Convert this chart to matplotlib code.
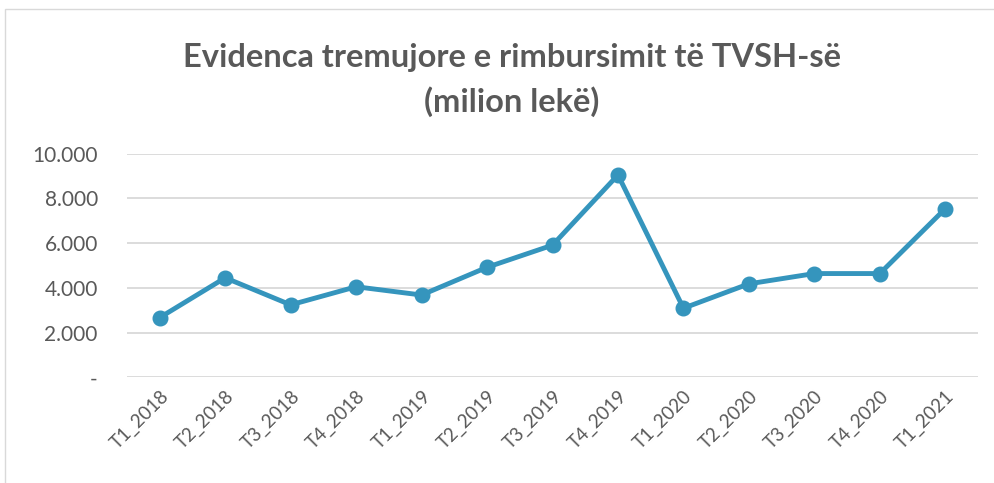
import matplotlib.pyplot as plt
from matplotlib.patches import Rectangle
from matplotlib.ticker import FuncFormatter

quarters = ["T1_2018", "T2_2018", "T3_2018", "T4_2018", "T1_2019", "T2_2019",
            "T3_2019", "T4_2019", "T1_2020", "T2_2020", "T3_2020", "T4_2020",
            "T1_2021"]
values = [2670, 4450, 3240, 4050, 3680, 4920, 5910, 9050, 3090, 4180, 4640,
          4640, 7540]
yticks = [0, 2000, 4000, 6000, 8000, 10000]

TEXT = "#595959"
LINE = "#3595bd"
plt.rcParams["font.family"] = ["Lato", "DejaVu Sans"]


def fmt(v, pos):
    if v == 0:
        return "-"
    return f"{v:,.0f}".replace(",", ".")


fig = plt.figure(figsize=(9.94, 4.83), dpi=100)
ax = fig.add_axes([127 / 994, (483 - 377.3) / 483, (978 - 127) / 994,
                   (377.3 - 153.7) / 483])

# chart border (only left/top edges are visible in the crop)
fig.patches.append(Rectangle((5 / 994, -0.1), 1.2, (483 - 9) / 483 + 0.1,
                             transform=fig.transFigure, fill=False,
                             edgecolor="#d9d9d9", linewidth=1))

x = list(range(len(quarters)))
ax.plot(x, values, color=LINE, linewidth=3.5, marker="o", markersize=10.5,
        clip_on=False, zorder=3)

ax.set_xlim(-0.5, len(quarters) - 0.5)
ax.set_ylim(0, 10000)
ax.set_yticks(yticks)
ax.yaxis.set_major_formatter(FuncFormatter(fmt))
ax.grid(axis="y", color="#d9d9d9", linewidth=1.3)
ax.set_axisbelow(True)
for s in ax.spines.values():
    s.set_visible(False)
ax.tick_params(axis="both", length=0, colors=TEXT)
ax.tick_params(axis="y", labelsize=15, pad=21)
ax.set_xticks(x)
ax.set_xticklabels(quarters, rotation=45, ha="right", rotation_mode="anchor",
                   fontsize=13.5)
ax.tick_params(axis="x", pad=7)

fig.text(0.515, 0.88, "Evidenca tremujore e rimbursimit të TVSH-së",
         ha="center", va="center", fontsize=23.5, fontweight="bold", color=TEXT)
fig.text(0.515, 0.79, "(milion lekë)", ha="center", va="center",
         fontsize=23.5, fontweight="bold", color=TEXT)

fig.savefig("out.png", dpi=100)
